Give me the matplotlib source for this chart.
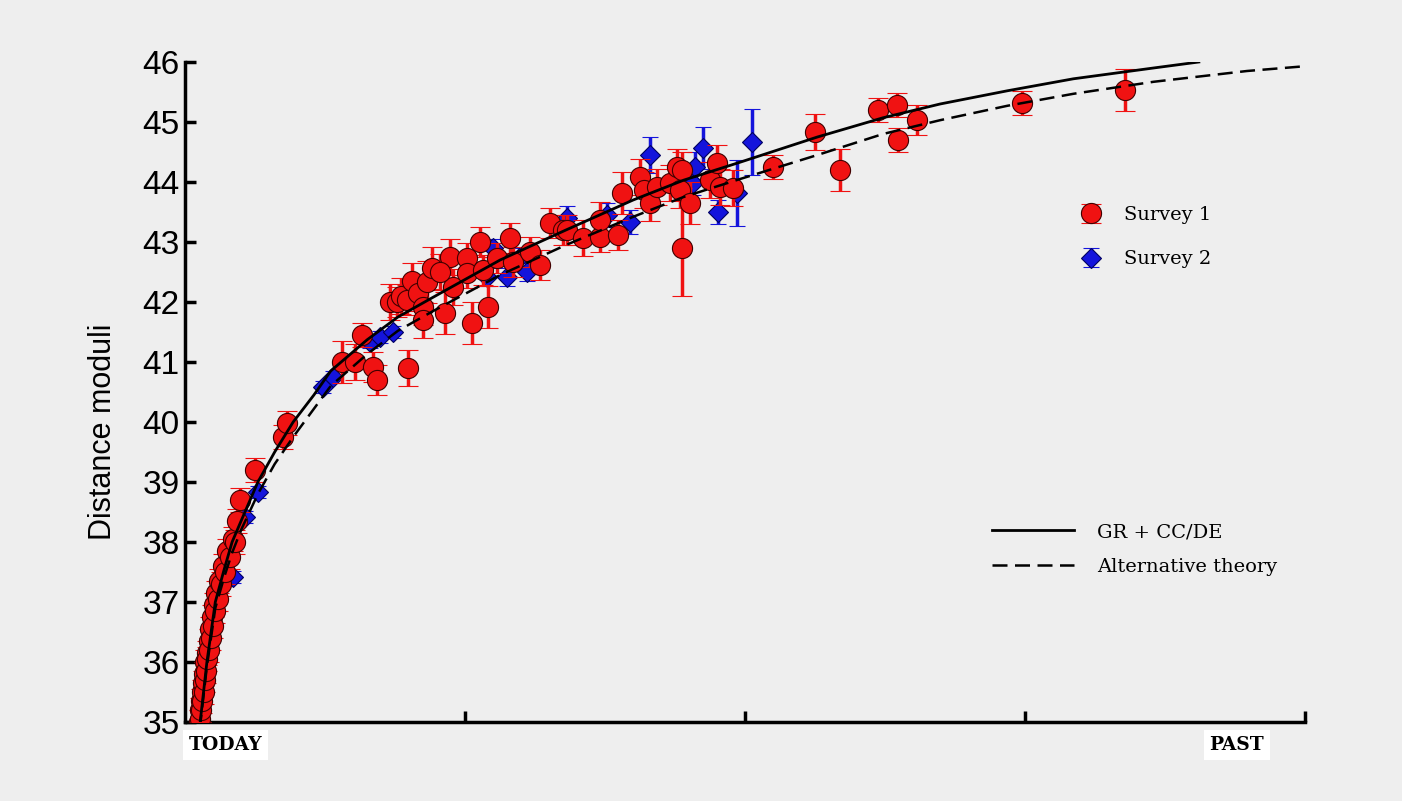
import matplotlib
matplotlib.use("Agg")
import matplotlib.pyplot as plt
from matplotlib.lines import Line2D

# --- data ---
# Survey 1 (red circles)
s1_z = [0.025, 0.026, 0.027, 0.028, 0.029, 0.030, 0.031, 0.032, 0.033, 0.034,
        0.035, 0.036, 0.038, 0.039, 0.040, 0.042, 0.043, 0.045, 0.046, 0.048,
        0.050, 0.052, 0.054, 0.056, 0.058, 0.061, 0.064, 0.067, 0.071, 0.075,
        0.080, 0.085, 0.090, 0.092, 0.098, 0.125, 0.175, 0.182,
        0.280, 0.304, 0.316, 0.336, 0.343, 0.398, 0.366, 0.378, 0.386, 0.396,
        0.405, 0.415, 0.425, 0.432, 0.441, 0.425, 0.464, 0.473, 0.503, 0.527,
        0.512, 0.541, 0.479, 0.455, 0.503, 0.532, 0.580, 0.557, 0.586, 0.616,
        0.634, 0.652, 0.675,
        0.682, 0.711, 0.741, 0.773, 0.741, 0.780, 0.8125, 0.820, 0.830, 0.843,
        0.866, 0.878, 0.887, 0.884, 0.902, 0.887, 0.9375, 0.950, 0.955, 0.979,
        1.050, 1.125, 1.170, 1.238, 1.271, 1.273, 1.307, 1.494, 1.679]
s1_mu = [35.00, 35.20, 35.05, 35.35, 35.20, 35.50, 35.35, 35.65, 35.50, 35.80,
         35.70, 36.00, 35.85, 36.15, 36.05, 36.35, 36.20, 36.55, 36.40, 36.75,
         36.60, 36.95, 36.85, 37.15, 37.05, 37.35, 37.30, 37.60, 37.50, 37.85,
         37.75, 38.05, 38.00, 38.35, 38.70, 39.20, 39.75, 39.98,
         41.00, 41.00, 41.45, 40.92, 40.70, 40.90, 42.00, 42.00, 42.10, 42.03,
         42.35, 42.15, 41.92, 42.33, 42.57, 41.70, 41.82, 42.75, 42.73, 43.00,
         41.65, 41.92, 42.25, 42.50, 42.48, 42.53, 43.07, 42.73, 42.67, 42.83,
         42.62, 43.32, 43.20,
         43.20, 43.07, 43.08, 43.12, 43.37, 43.82, 44.08, 43.87, 43.65, 43.92,
         43.98, 44.25, 44.20, 43.87, 43.65, 42.90, 44.03, 44.32, 43.92, 43.90,
         44.25, 44.83, 44.20, 45.20, 45.28, 44.70, 45.03, 45.32, 45.53]
s1_err = [0.2] * 38 + [
         0.35, 0.30, 0.20, 0.25, 0.25, 0.30, 0.30, 0.25, 0.30, 0.25,
         0.30, 0.30, 0.30, 0.35, 0.35, 0.30, 0.35, 0.30, 0.25, 0.25,
         0.35, 0.35, 0.30, 0.30, 0.25, 0.25, 0.25, 0.25, 0.25, 0.25,
         0.25, 0.25, 0.25,
         0.25, 0.30, 0.25, 0.25, 0.30, 0.35, 0.30, 0.30, 0.30, 0.30,
         0.30, 0.30, 0.30, 0.30, 0.35, 0.80, 0.30, 0.30, 0.30, 0.30,
         0.20, 0.30, 0.35, 0.20, 0.20, 0.20, 0.25, 0.20, 0.35]

# Survey 2 (blue diamonds)
s2_z = [0.086, 0.107, 0.130, 0.246, 0.264, 0.330, 0.348, 0.371, 0.539, 0.550,
        0.575, 0.598, 0.610, 0.682, 0.754, 0.795, 0.830, 0.907, 0.910, 0.925,
        0.952, 0.986, 1.012]
s2_mu = [37.42, 38.42, 38.83, 40.58, 40.75, 41.33, 41.42, 41.50, 42.42, 42.90,
         42.42, 42.75, 42.50, 43.40, 43.45, 43.33, 44.45, 43.98, 44.25, 44.57,
         43.50, 43.82, 44.67]
s2_err = [0.10, 0.10, 0.10, 0.10, 0.10, 0.10, 0.10, 0.10, 0.15, 0.15,
          0.15, 0.15, 0.15, 0.20, 0.20, 0.20, 0.30, 0.20, 0.25, 0.35,
          0.20, 0.55, 0.55]

# model curves
gr_z = [0.015, 0.027, 0.039, 0.054, 0.070, 0.084, 0.100, 0.130, 0.160, 0.193,
        0.230, 0.260, 0.325, 0.380, 0.443, 0.5625, 0.680, 0.800, 0.890, 0.991,
        1.129, 1.246, 1.348, 1.468, 1.586, 1.729, 1.810]
gr_mu = [33.80, 35.00, 36.00, 37.00, 37.55, 38.00, 38.35, 39.00, 39.50, 40.00,
         40.45, 40.85, 41.37, 41.75, 42.08, 42.70, 43.20, 43.70, 44.03, 44.33,
         44.75, 45.07, 45.30, 45.52, 45.72, 45.90, 46.00]
alt_z = [0.015, 0.027, 0.039, 0.054, 0.070, 0.084, 0.100, 0.130, 0.160, 0.193,
         0.230, 0.260, 0.325, 0.380, 0.443, 0.5625, 0.680, 0.800, 0.890, 0.991,
         1.129, 1.246, 1.348, 1.468, 1.586, 1.729, 1.896, 2.000]
alt_mu = [33.75, 34.95, 35.93, 36.90, 37.42, 37.82, 38.20, 38.80, 39.30, 39.75,
          40.22, 40.60, 41.13, 41.52, 41.85, 42.45, 42.95, 43.42, 43.75, 44.05,
          44.45, 44.80, 45.03, 45.27, 45.47, 45.67, 45.85, 45.93]

bg = "#eeeeee"
red = "#f01212"
blue = "#1414dc"

fig = plt.figure(figsize=(14.02, 8.01), dpi=100, facecolor=bg)
ax = fig.add_axes([0.132, 0.0986, 0.799, 0.824])
ax.set_facecolor(bg)

e2 = ax.errorbar(s2_z, s2_mu, yerr=s2_err, fmt="D", color=blue, ecolor=blue,
                 markersize=10, markeredgecolor="#000060", markeredgewidth=0.8,
                 elinewidth=2.5, capsize=6, capthick=2.5, zorder=2)
e1 = ax.errorbar(s1_z, s1_mu, yerr=s1_err, fmt="o", color=red, ecolor=red,
                 markersize=14.5, markeredgecolor="#400000", markeredgewidth=0.8,
                 elinewidth=2.5, capsize=7.5, capthick=2.5, zorder=3)

ax.plot(gr_z, gr_mu, color="black", lw=2.0, zorder=4)
ax.plot(alt_z, alt_mu, color="black", lw=1.8, ls=(0, (6, 3)), zorder=4)

ax.set_xlim(0, 2)
ax.set_ylim(35, 46)
ax.set_yticks(range(35, 47))
ax.set_xticks([0.5, 1.0, 1.5, 2.0])
ax.set_xticklabels([])
for s in ["top", "right"]:
    ax.spines[s].set_visible(False)
for s in ["left", "bottom"]:
    ax.spines[s].set_linewidth(2.5)
ax.tick_params(direction="in", length=8, width=2.5, labelsize=24, pad=4)
for lab in ax.get_yticklabels():
    lab.set_family("Liberation Sans")
ax.set_ylabel("Distance moduli", fontsize=22, family="Liberation Sans")
ax.yaxis.set_label_coords(-0.06, 0.44)

ax.text(0.036, -0.035, "TODAY", transform=ax.transAxes, ha="center", va="center",
        fontsize=13.5, fontweight="bold", family="DejaVu Serif",
        bbox=dict(facecolor="white", edgecolor="none", pad=4))
ax.text(0.939, -0.035, "PAST", transform=ax.transAxes, ha="center", va="center",
        fontsize=13.5, fontweight="bold", family="DejaVu Serif",
        bbox=dict(facecolor="white", edgecolor="none", pad=4))

leg1 = ax.legend([e1, e2], ["Survey 1", "Survey 2"], loc="upper left",
                 bbox_to_anchor=(0.776, 0.808), frameon=False, labelspacing=1.35,
                 handletextpad=0.7, prop={"family": "DejaVu Serif", "size": 14})
ax.add_artist(leg1)
h1 = Line2D([], [], color="black", lw=2.0)
h2 = Line2D([], [], color="black", lw=1.8, ls=(0, (6, 3)))
ax.legend([h1, h2], ["GR + CC/DE", "Alternative theory"], loc="upper left",
          bbox_to_anchor=(0.705, 0.328), frameon=False, labelspacing=0.85,
          handlelength=4.2, handletextpad=1.2,
          prop={"family": "DejaVu Serif", "size": 14})

fig.savefig("out.png", dpi=100, facecolor=bg)
